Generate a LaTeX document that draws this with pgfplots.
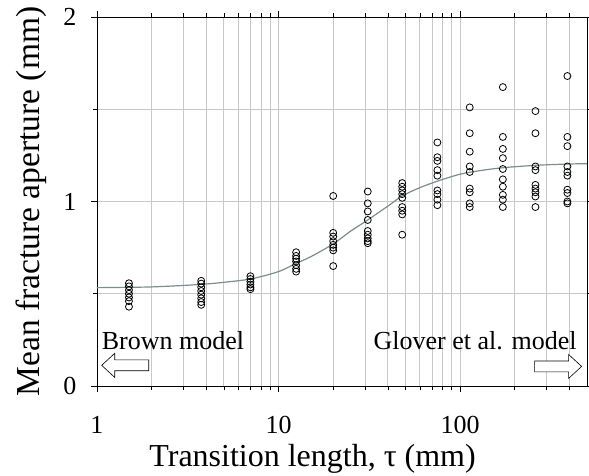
\documentclass[border=0pt]{standalone}
\usepackage{fontspec}
\setmainfont{Liberation Serif}
\usepackage{pgfplots}
\pgfplotsset{compat=1.18}
\definecolor{gridc}{RGB}{200,200,200}
\definecolor{fitc}{RGB}{125,140,140}
\begin{document}
\begin{tikzpicture}
\begin{axis}[
  scale only axis,
  width=490pt, height=369pt,
  xmode=log, log basis x=10,
  xmin=1, xmax=500, ymin=0, ymax=2,
  xtick={1,10,100},
  xticklabels={1,10,100},
  minor xtick={2,3,4,5,6,7,8,9,20,30,40,50,60,70,80,90,200,300,400},
  ytick={0,1,2},
  minor ytick={0.5,1.5},
  grid=both,
  grid style={gridc, line width=0.8pt},
  major grid style={gridc, line width=0.8pt},
  minor grid style={gridc, line width=0.8pt},
  tick align=outside,
  major tick length=6pt,
  minor tick length=4pt,
  tick style={black, line width=0.6pt},
  axis line style={black, line width=0.8pt},
  /pgf/number format/assume math mode=true,
  ticklabel style={font=\fontsize{26}{30}\selectfont},
  xticklabel style={anchor=base, yshift=-41pt},
  yticklabel style={xshift=-11pt},
  xlabel={Transition length, τ (mm)},
  ylabel={Mean fracture aperture (mm)},
  xlabel style={font=\fontsize{32}{36}\selectfont, at={(axis description cs:0.44,-0.2195)}, anchor=base},
  ylabel style={font=\fontsize{33.5}{38}\selectfont, at={(axis description cs:-0.1347,0.5)}, anchor=center},
  clip=false,
]
\addplot[fitc, line width=1.2pt, smooth] coordinates {
(1,0.533) (1.5,0.535) (2,0.537) (3,0.545) (4,0.553) (5,0.562) (7,0.58)
(10,0.62) (12.5,0.665) (15,0.70) (20,0.77) (25,0.84) (31,0.90) (40,0.975)
(48,1.03) (60,1.075) (75,1.11) (100,1.148) (130,1.168) (172,1.183)
(260,1.196) (390,1.203) (500,1.205)
};
\addplot[only marks, mark=o, mark size=3.5pt, mark options={black, line width=0.8pt}] coordinates {
(1.5,0.557) (1.5,0.540) (1.5,0.520) (1.5,0.500) (1.5,0.480) (1.5,0.460) (1.5,0.430)
(3.75,0.570) (3.75,0.555) (3.75,0.535) (3.75,0.515) (3.75,0.495) (3.75,0.475) (3.75,0.455) (3.75,0.440)
(7,0.595) (7,0.580) (7,0.565) (7,0.550) (7,0.535) (7,0.525)
(12.5,0.725) (12.5,0.705) (12.5,0.690) (12.5,0.675) (12.5,0.655) (12.5,0.635) (12.5,0.620)
(20,1.03) (20,0.83) (20,0.81) (20,0.785) (20,0.765) (20,0.75) (20,0.735) (20,0.65)
(31,1.054) (31,0.99) (31,0.946) (31,0.90) (31,0.84) (31,0.82) (31,0.80) (31,0.785) (31,0.774)
(48,1.10) (48,1.08) (48,1.06) (48,1.04) (48,1.02) (48,0.97) (48,0.95) (48,0.93) (48,0.82)
(75,1.32) (75,1.24) (75,1.22) (75,1.17) (75,1.14) (75,1.06) (75,1.04) (75,1.01) (75,0.98)
(113,1.51) (113,1.37) (113,1.27) (113,1.19) (113,1.16) (113,1.07) (113,1.05) (113,0.99) (113,0.97)
(172,1.62) (172,1.35) (172,1.285) (172,1.235) (172,1.176) (172,1.12) (172,1.08) (172,1.036) (172,1.01) (172,0.97)
(260,1.49) (260,1.37) (260,1.19) (260,1.17) (260,1.09) (260,1.07) (260,1.05) (260,1.027) (260,0.97)
(390,1.68) (390,1.35) (390,1.30) (390,1.19) (390,1.16) (390,1.14) (390,1.064) (390,1.046) (390,1.0) (390,0.99)
};
\node[anchor=west, inner sep=0pt, font=\fontsize{26}{30}\selectfont] at (rel axis cs:0.0096,0.124) {Brown model};
\node[anchor=east, inner sep=0pt, font=\fontsize{26}{30}\selectfont] at (rel axis cs:0.979,0.124) {Glover et al. model};
\draw[black, line width=0.6pt, fill=white] (rel axis cs:0.0096,0.056) -- ++(13pt,12pt) -- ++(0pt,-6.6pt) -- ++(34pt,0pt) -- ++(0pt,-10.8pt) -- ++(-34pt,0pt) -- ++(0pt,-6.6pt) -- cycle;
\draw[black, line width=0.6pt, fill=white] (rel axis cs:0.989,0.053) -- ++(-13pt,12pt) -- ++(0pt,-6.6pt) -- ++(-34pt,0pt) -- ++(0pt,-10.8pt) -- ++(34pt,0pt) -- ++(0pt,-6.6pt) -- cycle;
\end{axis}
\pgfresetboundingbox
\path[use as bounding box] (current axis.south west) ++(-97pt,-90pt) rectangle ([shift={(2pt,17pt)}]current axis.north east);
\end{tikzpicture}
\end{document}
